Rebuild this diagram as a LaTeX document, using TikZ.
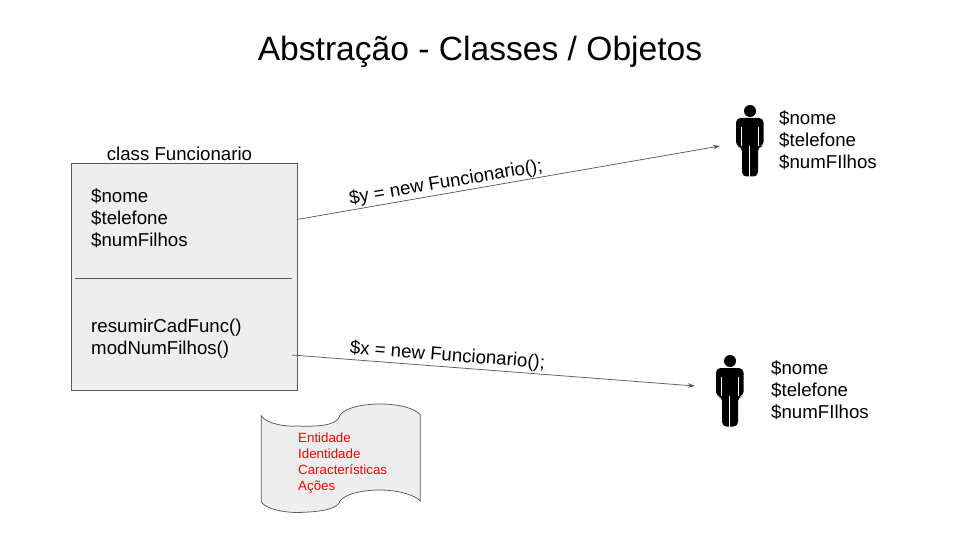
\documentclass[tikz,border=0pt]{standalone}
\usepackage{fontspec}
\setmainfont{Liberation Sans}
\usetikzlibrary{arrows.meta}
\definecolor{linegrey}{HTML}{595959}
\definecolor{fillgrey}{HTML}{EEEEEE}
\tikzset{
  x=1pt,y=-1pt,
  body18/.style={font=\fontsize{18.67}{22}\selectfont,inner sep=0pt,align=left,text=black},
  small13/.style={font=\fontsize{13.33}{16}\selectfont,inner sep=0pt,align=left,text=red},
  panel/.style={draw=linegrey,fill=fillgrey,line width=0.75pt},
  link/.style={draw=linegrey,line width=0.75pt,-{Stealth[length=7pt,width=4.5pt]}},
  persongap/.style={draw=white,line width=0.9pt},
  person/.pic={
    \fill[black] (0,-39) circle[radius=6];
    \fill[black,rounded corners=4.5pt] (-14,-32) -- (13.5,-32) -- (13.5,-3.5) -- (8,-3.5) -- (8,26.5) -- (-8,26.5) -- (-8,-3.5) -- (-14,-3.5) -- cycle;
    \draw[persongap] (-9,-23) -- (-9,-4);
    \draw[persongap] (8.8,-23) -- (8.8,-4);
    \draw[persongap] (-0.3,-4) -- (-0.3,27);
  }
}
\begin{document}
\begin{tikzpicture}
\useasboundingbox (0,0) rectangle (960,540);
\node[font=\fontsize{33.6}{38}\selectfont,inner sep=0pt] (title) at (480,51.5) {Abstração - Classes / Objetos};
% class box
\node[panel,minimum width=226pt,minimum height=226pt,inner sep=0pt,anchor=north west] (classbox) at (70.5,163.5) {};
\node[font=\fontsize{18.67}{20}\selectfont,inner sep=0pt] (classname) at (179.5,153.5) {class Funcionario};
\coordinate (divL) at (75,278);
\coordinate (divR) at (291.5,278);
\draw[linegrey,line width=0.75pt] (divL) -- (divR);
\node[body18,anchor=west] (attrs) at (91,218.3) {\$nome\\\$telefone\\\$numFilhos};
\node[body18,anchor=west] (methods) at (91,338.5) {resumirCadFunc()\\modNumFilhos()};
% objects
\pic at (750,150) {person};
\pic at (730,400) {person};
\coordinate (objA) at (720,146);
\coordinate (objB) at (695,386);
\coordinate (startA) at (297,219.5);
\coordinate (startB) at (292,355);
\draw[link] (startA) -- (objA);
\draw[link] (startB) -- (objB);
\node[body18,anchor=west] (attrsA) at (779,140.5) {\$nome\\\$telefone\\\$numFIlhos};
\node[body18,anchor=west] (attrsB) at (771,390.5) {\$nome\\\$telefone\\\$numFIlhos};
\node[font=\fontsize{18.67}{22}\selectfont,inner sep=0pt,rotate=9.6] (labelY) at (446,183) {\$y = new Funcionario();};
\node[font=\fontsize{18.67}{22}\selectfont,inner sep=0pt,rotate=-4.4] (labelX) at (447.5,356) {\$x = new Funcionario();};
% scroll
\path[panel] (261.3,415.7) .. controls (266,424) and (287,427) .. (297,426)
  .. controls (325,427) and (338,424) .. (340,415)
  .. controls (346,407) and (365,404) .. (380,404)
  .. controls (398,404) and (415,408) .. (420.3,415)
  -- (420.3,501)
  .. controls (415,495) and (398,490) .. (380,490)
  .. controls (365,490) and (346,493) .. (340,501)
  .. controls (338,508) and (325,512) .. (297,512.5)
  .. controls (287,512.5) and (266,510) .. (261.3,501.7)
  -- cycle;
\node[small13,anchor=west] (notes) at (298,463) {Entidade\\Identidade\\Características\\Ações};
\end{tikzpicture}
\end{document}
